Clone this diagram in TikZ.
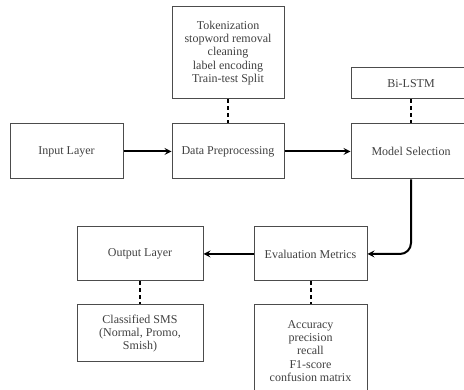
\documentclass[tikz,border=0pt]{standalone}
\usepackage{fontspec}
\setmainfont{Liberation Serif}
\usepackage{xcolor}
\usetikzlibrary{shapes,arrows,positioning}

\begin{document}
\begin{tikzpicture}[x=1pt, y=-1pt,
        blk/.style={draw=black!70, line width=1pt, align=center, font=\fontsize{12}{13.4}\selectfont,
                    text=black!75, inner sep=2pt},
        arr/.style={->, line width=2pt, >=stealth},
        lnk/.style={line width=2pt, dash pattern=on 4pt off 3pt}
    ]
        \useasboundingbox (0,0) rectangle (464,390);
        \clip (0,0) rectangle (464,390);

        % ── Top row ──────────────────────────────────────────────────────
        \node[blk, minimum width=113pt, minimum height=55pt] (inp) at (66.5, 151.5) {Input Layer};
        \node[blk, minimum width=112pt, minimum height=55pt] (prep) at (228, 151.5) {Data Preprocessing};
        \node[blk, minimum width=120pt, minimum height=55pt] (model) at (411, 151.5) {Model Selection};

        % ── Detail boxes above ───────────────────────────────────────────
        \node[blk, minimum width=112pt, minimum height=92pt] (prepinfo) at (228, 53)
            {Tokenization\\stopword removal\\cleaning\\label encoding\\Train-test Split};
        \node[blk, minimum width=120pt, minimum height=31pt] (bilstm) at (411, 83.5) {Bi-LSTM};

        % ── Bottom row ───────────────────────────────────────────────────
        \node[blk, minimum width=126pt, minimum height=54pt] (outp) at (140, 254) {Output Layer};
        \node[blk, minimum width=113pt, minimum height=54pt] (eval) at (310.5, 254) {Evaluation Metrics};

        % ── Detail boxes below ───────────────────────────────────────────
        \node[blk, minimum width=126pt, minimum height=57pt] (sms) at (140, 333.5)
            {Classified SMS\\(Normal, Promo,\\Smish)};
        \node[blk, minimum width=113pt, minimum height=92pt] (metrics) at (310.5, 351)
            {Accuracy\\precision\\recall\\F1-score\\confusion matrix};

        % ── Main flow ────────────────────────────────────────────────────
        \draw[arr] (inp) -- (prep);
        \draw[arr] (prep) -- (model);
        \draw[arr, rounded corners=11pt] (model.south) |- (eval.east);
        \draw[arr] (eval) -- (outp);

        % ── Dashed links to detail boxes ─────────────────────────────────
        \draw[lnk] (prepinfo) -- (prep);
        \draw[lnk] (bilstm) -- (model);
        \draw[lnk] (outp) -- (sms);
        \draw[lnk] (eval) -- (metrics);

    \end{tikzpicture}
\end{document}
